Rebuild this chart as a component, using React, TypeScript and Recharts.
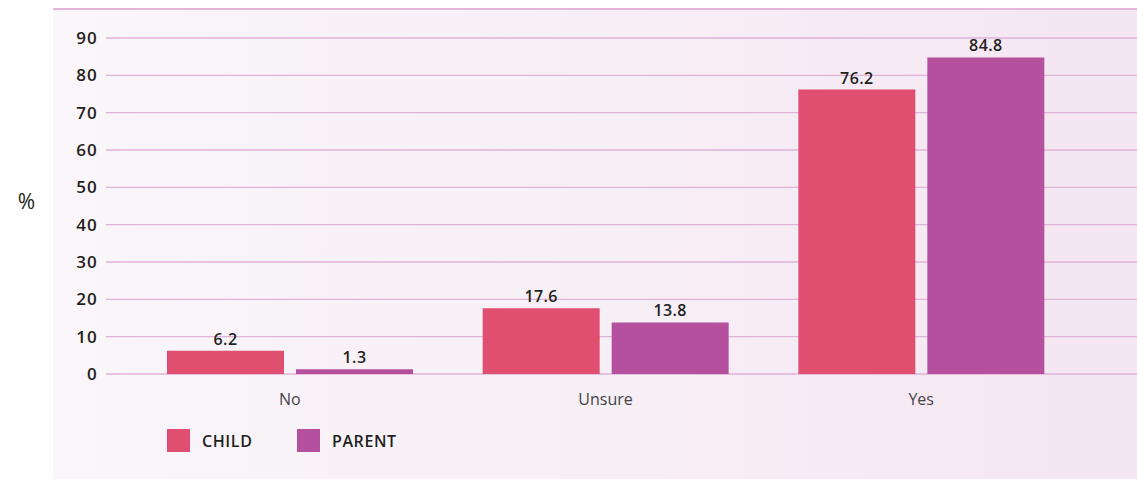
import React from 'react';
import { BarChart, Bar, XAxis, YAxis, CartesianGrid, LabelList } from 'recharts';

const categories = ['No', 'Unsure', 'Yes'];
const childValues = [6.2, 17.6, 76.2];
const parentValues = [1.3, 13.8, 84.8];
const yTicks = [0, 10, 20, 30, 40, 50, 60, 70, 80, 90];
const seriesNames = ['CHILD', 'PARENT'];

const CHILD_COLOR = '#e04e70';
const PARENT_COLOR = '#b5509f';
const FONT = '"Open Sans", sans-serif';

const data = categories.map((c, i) => ({ name: c, child: childValues[i], parent: parentValues[i] }));

export default function App() {
  return (
    <div style={{ position: 'absolute', left: 0, top: 0, width: 1137, height: 479, background: '#ffffff', fontFamily: FONT }}>
      <div
        style={{
          position: 'absolute',
          left: 53,
          top: 8,
          width: 1084,
          height: 471,
          background: 'linear-gradient(to right, #faf6fa 0%, #f7eff6 50%, #f4e6f2 100%)',
          borderTop: '2px solid #e3b6d9',
          boxSizing: 'border-box',
        }}
      />
      <div style={{ position: 'absolute', left: 0, top: 0 }}>
        <BarChart
          width={1137}
          height={479}
          data={data}
          margin={{ top: 38, right: 0, bottom: 75, left: 46 }}
          barSize={117}
          barGap={12}
        >
          <CartesianGrid horizontal vertical={false} stroke="#dfb2d8" strokeWidth={1.3} />
          <XAxis
            dataKey="name"
            height={30}
            axisLine={false}
            tickLine={false}
            tickMargin={14}
            padding={{ left: 26, right: 58 }}
            tick={{ fill: '#444', fontSize: 16, fontFamily: FONT }}
          />
          <YAxis
            width={60}
            domain={[0, 90]}
            ticks={yTicks}
            interval={0}
            axisLine={false}
            tickLine={false}
            tick={{ fill: '#231f20', fontSize: 17, fontWeight: 600, fontFamily: FONT, letterSpacing: 1.2 }}
            label={{ value: '%', position: 'left', offset: 11, fill: '#231f20', fontSize: 21, fontFamily: FONT, dy: -4 }}
          />
          <Bar dataKey="child" name={seriesNames[0]} fill={CHILD_COLOR} isAnimationActive={false}>
            <LabelList dataKey="child" position="top" offset={6} fill="#231f20" fontSize={16} fontWeight={600} fontFamily={FONT} letterSpacing={0.4} />
          </Bar>
          <Bar dataKey="parent" name={seriesNames[1]} fill={PARENT_COLOR} isAnimationActive={false}>
            <LabelList dataKey="parent" position="top" offset={6} fill="#231f20" fontSize={16} fontWeight={600} fontFamily={FONT} letterSpacing={0.4} />
          </Bar>
        </BarChart>
      </div>
      {seriesNames.map((n, i) => (
        <div key={n} style={{ position: 'absolute', left: i === 0 ? 167 : 297, top: 429, display: 'flex', alignItems: 'center' }}>
          <div style={{ width: 23, height: 23, background: i === 0 ? CHILD_COLOR : PARENT_COLOR }} />
          <span style={{ marginLeft: 12, fontSize: 16, fontWeight: 600, color: '#231f20', fontFamily: FONT, letterSpacing: 0.6 }}>{n}</span>
        </div>
      ))}
    </div>
  );
}
